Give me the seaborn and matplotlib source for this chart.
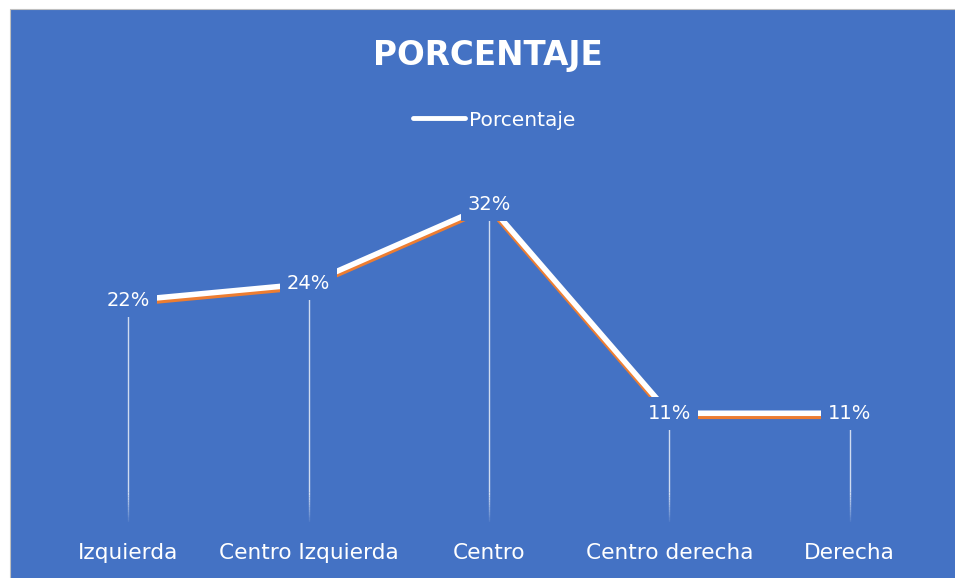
import pandas as pd
import numpy as np
import matplotlib.pyplot as plt
import matplotlib.patheffects as pe
from matplotlib.patches import Rectangle
import seaborn as sns

# datos
categorias = ['Izquierda', 'Centro Izquierda', 'Centro', 'Centro derecha', 'Derecha']
porcentaje = [22.4, 24.1, 32.1, 11.0, 11.0]
etiquetas = ['22%', '24%', '32%', '11%', '11%']

AZUL = '#4472C4'
NARANJA = '#ED7D31'

sns.set_theme(style='white')
plt.rcParams['font.family'] = ['DejaVu Sans']

df = pd.DataFrame({'categoria': categorias, 'porcentaje': porcentaje})

fig = plt.figure(figsize=(9.55, 5.78), dpi=100)
fig.patch.set_facecolor('white')
# fondo azul del gráfico
fig.patches.append(Rectangle((10 / 955, -0.05), 1, 1.05 - 9 / 578, transform=fig.transFigure,
                             facecolor=AZUL, edgecolor='#BFBFBF', linewidth=0.8, zorder=-5))

ax = fig.add_axes([38 / 955, 56 / 578, 902 / 955, 346 / 578])
ax.set_facecolor('none')

sns.lineplot(data=df, x='categoria', y='porcentaje', sort=False, ax=ax,
             color='white', linewidth=4, label='Porcentaje', zorder=3,
             path_effects=[pe.SimpleLineShadow(offset=(0, -2.2), shadow_color=NARANJA, alpha=1),
                           pe.Normal()])

# líneas de proyección con desvanecido abajo
x = np.arange(len(categorias))
for xi, v in zip(x, porcentaje):
    ax.vlines(xi, 3, v, color='white', linewidth=1, alpha=0.75, zorder=1)
    n = 12
    for k in range(n):
        ax.vlines(xi, 3 * k / n, 3 * (k + 1) / n, color='white', linewidth=1,
                  alpha=0.75 * (k + 1) / n, zorder=1)

for xi, v, t in zip(x, porcentaje, etiquetas):
    ax.text(xi, v, t, ha='center', va='center', color='white', fontsize=14, zorder=5,
            bbox=dict(facecolor=AZUL, edgecolor='none', boxstyle='square,pad=0.35'))

ax.set_xlim(-0.5, len(categorias) - 0.5)
ax.set_ylim(0, 35)
ax.set_xlabel('')
ax.set_ylabel('')
ax.set_yticks([])
ax.set_xticks(x)
ax.set_xticklabels(categorias, color='white', fontsize=15.6)
ax.tick_params(axis='x', length=0, pad=15)
for s in ax.spines.values():
    s.set_visible(False)

leg = ax.legend(loc='center', bbox_to_anchor=(494 / 955, 1 - 120 / 578),
                bbox_transform=fig.transFigure, frameon=False, fontsize=14.5,
                handlelength=2.6, handletextpad=0.2, labelcolor='white')
for h in leg.get_lines():
    h.set_path_effects([])
    h.set_linewidth(3.5)

fig.text(488 / 955, 1 - 55 / 578, 'PORCENTAJE', ha='center', va='center',
         color='white', fontsize=23.5, fontweight='bold')

plt.savefig('out.png', dpi=100)
